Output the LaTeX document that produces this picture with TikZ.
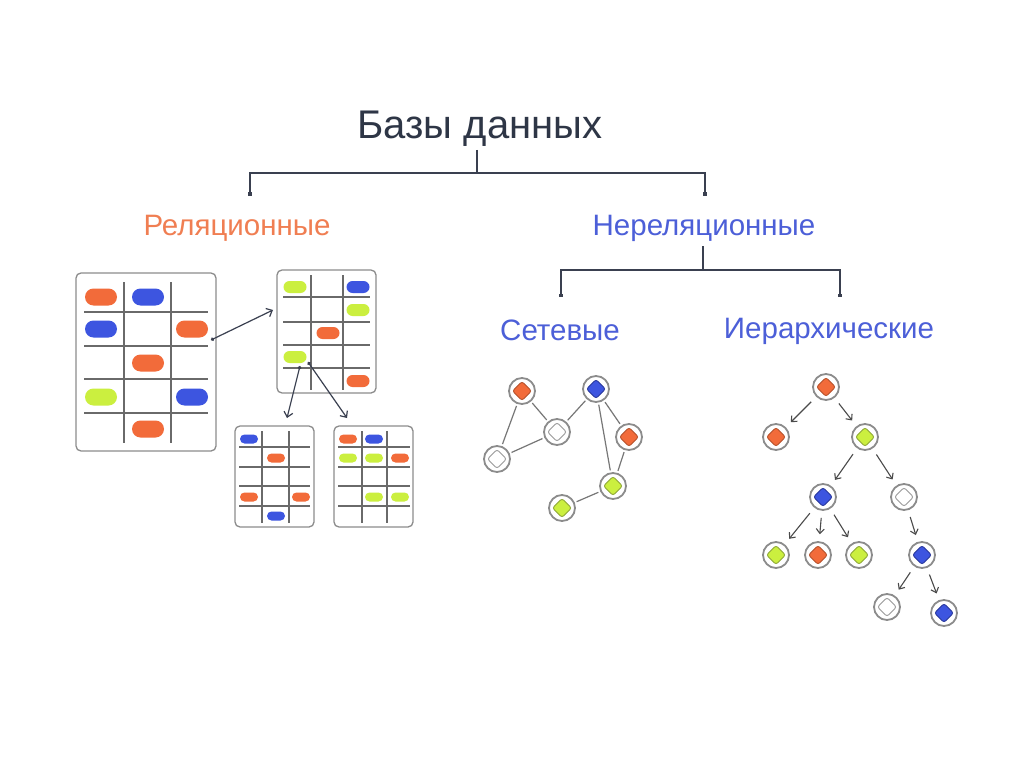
\documentclass[tikz,border=0pt]{standalone}
\usepackage{fontspec}
\setmainfont{Liberation Sans}
\usetikzlibrary{arrows.meta}
\definecolor{cor}{HTML}{F26B3A}
\definecolor{corD}{HTML}{B5532E}
\definecolor{cbl}{HTML}{3D55E0}
\definecolor{cblD}{HTML}{2B3A9C}
\definecolor{cgr}{HTML}{CBEF3F}
\definecolor{cgrD}{HTML}{8FA83A}
\definecolor{cwh}{HTML}{FFFFFF}
\definecolor{cwhD}{HTML}{9A9A9A}
\definecolor{txt}{HTML}{2E3646}
\definecolor{torange}{HTML}{F07E52}
\definecolor{tblue}{HTML}{4C5FD8}
\definecolor{gridc}{HTML}{6A6A6A}
\definecolor{ringc}{HTML}{8C8C8C}
\definecolor{linec}{HTML}{3A4050}
\definecolor{arrc}{HTML}{4A4A4A}
\begin{document}
\begin{tikzpicture}[x=1pt,y=-1pt,
  tbl/.style={draw=ringc, line width=1.3, rounded corners=5pt, inner sep=0pt},
  grd/.style={draw=gridc, line width=1.1},
  pillA/.style={rounded corners=8.5pt, minimum width=32pt, minimum height=17pt, inner sep=0pt},
  pillB/.style={rounded corners=6pt, minimum width=23pt, minimum height=12pt, inner sep=0pt},
  pillC/.style={rounded corners=4.5pt, minimum width=18pt, minimum height=9pt, inner sep=0pt},
  ring/.style={circle, draw=ringc, line width=1.8, minimum size=26pt, inner sep=0pt},
  dia/.style={rectangle, rotate=45, minimum size=13.5pt, inner sep=0pt, rounded corners=2.5pt, line width=0.9},
  nedge/.style={draw=ringc!85!black, line width=1.2, shorten >=2pt, shorten <=2pt},
  tarr/.style={draw=arrc, line width=1.1, -{Straight Barb[length=4.5pt,width=8pt]}, shorten <=7pt, shorten >=7pt},
  tabarr/.style={draw=linec, line width=1.2, {Circle[length=3.5pt]}-{Straight Barb[length=5pt,width=9pt]}},
  hline/.style={draw=linec, line width=1.4},
  hend/.style={draw=linec, line width=1.4, -{Square[length=3.5pt,width=3.5pt]}},
  ttl/.style={font=\fontsize{40}{48}\selectfont, text=txt, inner sep=0pt},
  sub/.style={font=\fontsize{29.5}{34}\selectfont, inner sep=0pt}
]
\useasboundingbox (0,0) rectangle (1024,767);
\fill[white] (0,0) rectangle (1024,767);

% titles
\node[ttl] (title) at (480,129) {Базы данных};
\node[sub, text=torange] (rel) at (237,228) {Реляционные};
\node[sub, text=tblue] (nrel) at (704,228) {Нереляционные};
\node[sub, text=tblue] (net) at (560,330) {Сетевые};
\node[sub, text=tblue] (hier) at (829,331) {Иерархические};

% top hierarchy connectors
\coordinate (ta) at (477,150);
\coordinate (tj) at (477,173);
\coordinate (tl) at (250,196);
\coordinate (tr) at (705,196);
\draw[hline] (ta) -- (tj);
\draw[hend] (tj) -| (tl);
\draw[hend] (tj) -| (tr);
\coordinate (na) at (703,246);
\coordinate (nj) at (703,270);
\coordinate (nl) at (561,297);
\coordinate (nr) at (840,297);
\draw[hline] (na) -- (nj);
\draw[hend] (nj) -| (nl);
\draw[hend] (nj) -| (nr);

% table 1
\node[tbl, minimum width=140pt, minimum height=178pt] (t1) at (146,362) {};
\foreach \x in {124,171} \draw[grd] (\x,282) -- (\x,443);
\foreach \y in {312,346,379,413} \draw[grd] (84,\y) -- (208,\y);
\foreach \x/\y/\c [count=\i] in {101/297/cor,148/297/cbl,101/329/cbl,192/329/cor,148/363/cor,101/397/cgr,192/397/cbl,148/429/cor}
  \node[pillA, fill=\c] (pa\i) at (\x,\y) {};

% table 2
\node[tbl, minimum width=99pt, minimum height=123pt] (t2) at (326.5,331.5) {};
\foreach \x in {311,343} \draw[grd] (\x,275) -- (\x,390);
\foreach \y in {297,322,345,368} \draw[grd] (283,\y) -- (370,\y);
\foreach \x/\y/\c [count=\i] in {295/287/cgr,358/287/cbl,358/310/cgr,328/333/cor,295/357/cgr,358/381/cor}
  \node[pillB, fill=\c] (pb\i) at (\x,\y) {};

% table 3
\node[tbl, minimum width=79pt, minimum height=101pt] (t3) at (274.5,476.5) {};
\foreach \x in {262,289} \draw[grd] (\x,431) -- (\x,523);
\foreach \y in {447,467,486,506} \draw[grd] (239,\y) -- (310,\y);
\foreach \x/\y/\c [count=\i] in {249/439/cbl,276/458/cor,249/497/cor,301/497/cor,276/516/cbl}
  \node[pillC, fill=\c] (pc\i) at (\x,\y) {};

% table 4
\node[tbl, minimum width=79pt, minimum height=101pt] (t4) at (373.5,476.5) {};
\foreach \x in {362,387} \draw[grd] (\x,431) -- (\x,523);
\foreach \y in {447,467,486,506} \draw[grd] (338,\y) -- (410,\y);
\foreach \x/\y/\c [count=\i] in {348/439/cor,374/439/cbl,348/458/cgr,374/458/cgr,400/458/cor,374/497/cgr,400/497/cgr}
  \node[pillC, fill=\c] (pd\i) at (\x,\y) {};

% table arrows
\coordinate (a1s) at (211,340);
\coordinate (a1e) at (273,310);
\draw[tabarr] (a1s) -- (a1e);
\coordinate (a2s) at (300,366);
\coordinate (a2e) at (287,418);
\draw[tabarr] (a2s) -- (a2e);
\coordinate (a3s) at (308,362);
\coordinate (a3e) at (347,418);
\draw[tabarr] (a3s) -- (a3e);

% network graph
\foreach \n/\x/\y/\c in {A/522/391/cor,B/596/389/cbl,C/557/432/cwh,D/497/459/cwh,E/629/437/cor,F/613/486/cgr,G/562/508/cgr}{
  \node[ring] (\n) at (\x,\y) {};
  \node[dia, fill=\c, draw=\c D] (\n d) at (\x,\y) {};
}
\foreach \a/\b in {A/D,A/C,C/B,C/D,B/F,B/E,E/F,F/G}
  \draw[nedge] (\a) -- (\b);

% hierarchy tree
\foreach \n/\x/\y/\c in {R/826/387/cor,L1/776/437/cor,L2/865/437/cgr,M1/823/497/cbl,M2/904/497/cwh,N1/776/555/cgr,N2/818/555/cor,N3/859/555/cgr,N4/922/555/cbl,O1/887/607/cwh,O2/944/613/cbl}{
  \node[ring] (\n) at (\x,\y) {};
  \node[dia, fill=\c, draw=\c D] (\n d) at (\x,\y) {};
}
\foreach \a/\b in {R/L1,R/L2,L2/M1,L2/M2,M1/N1,M1/N2,M1/N3,M2/N4,N4/O1,N4/O2}
  \draw[tarr] (\a) -- (\b);
\end{tikzpicture}
\end{document}
